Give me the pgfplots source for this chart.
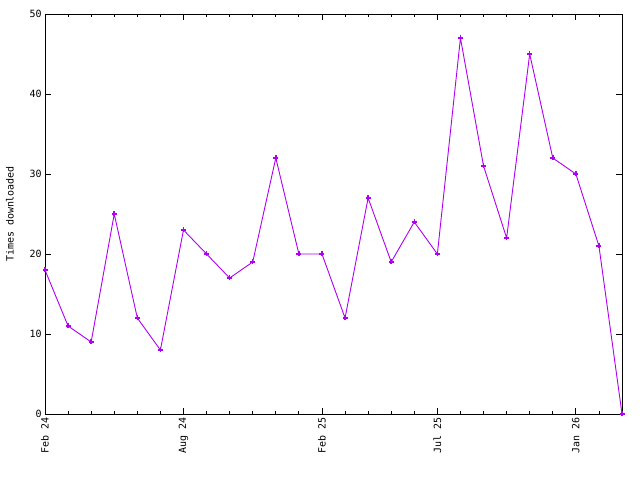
\documentclass[border=0pt]{standalone}
\usepackage{pgfplots}
\pgfplotsset{compat=1.18}
\usepackage{fontspec}
\setmainfont{DejaVu Sans Mono}
\definecolor{gpviolet}{HTML}{B000F0}
\begin{document}
\begin{tikzpicture}[x=1bp,y=1bp]
\useasboundingbox (0,0) rectangle (640,480);
\begin{axis}[
  at={(45bp,66bp)}, anchor=south west,
  scale only axis, width=577bp, height=400bp,
  xmin=0, xmax=25, ymin=0, ymax=50,
  xtick={0,6,12,17,23},
  xticklabels={Feb 24,Aug 24,Feb 25,Jul 25,Jan 26},
  minor xtick={0,...,25},
  ytick={0,10,20,30,40,50},
  tick align=inside,
  major tick length=6bp, minor tick length=3bp,
  tick style={black, line width=0.8bp},
  axis line style={line width=0.8bp},
  every axis/.append style={line width=0.8bp},
  xticklabel style={rotate=90, anchor=east, font=\fontsize{10}{11}\selectfont, inner sep=3bp},
  yticklabel style={font=\fontsize{10}{11}\selectfont, inner sep=3bp},
  /pgf/number format/assume math mode=true,
  ylabel={Times downloaded},
  ylabel style={font=\fontsize{10}{11}\selectfont},
  every axis y label/.style={rotate=90, anchor=center, at={(-35bp,200bp)}},
  clip=false,
]
\addplot[color=gpviolet, line width=0.9bp, mark=+, mark size=2.5bp, mark options={line width=1.5bp}]
coordinates {
(0,18) (1,11) (2,9) (3,25) (4,12) (5,8) (6,23) (7,20) (8,17) (9,19)
(10,32) (11,20) (12,20) (13,12) (14,27) (15,19) (16,24) (17,20) (18,47) (19,31)
(20,22) (21,45) (22,32) (23,30) (24,21) (25,0)
};
\end{axis}
\end{tikzpicture}
\end{document}
